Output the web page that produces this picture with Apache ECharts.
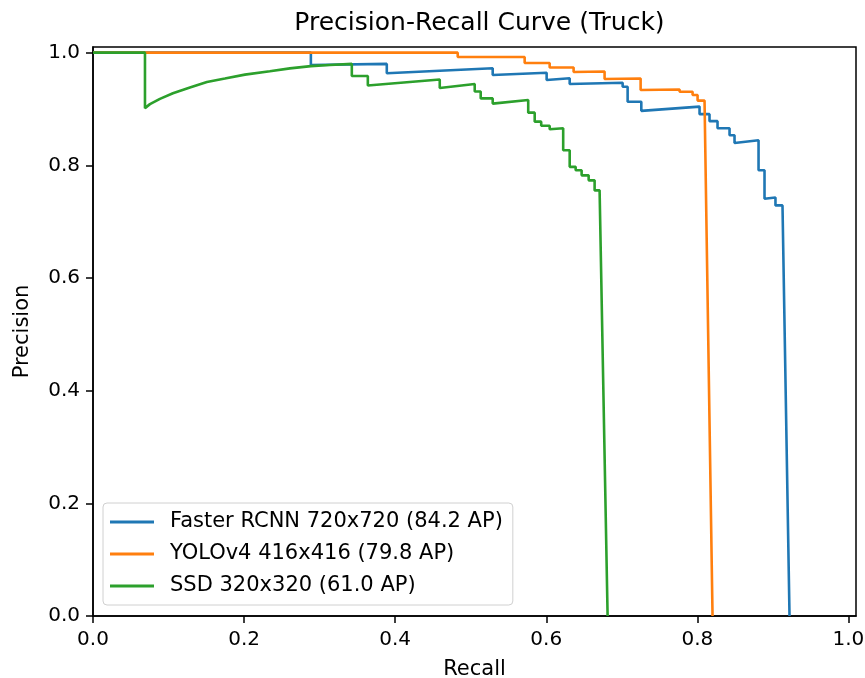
<!DOCTYPE html>
<html>
<head>
<meta charset="utf-8">
<script src="https://cdn.jsdelivr.net/npm/echarts@6/dist/echarts.min.js"></script>
<style>html,body{margin:0;padding:0;background:#fff;}#c{width:865px;height:678px;}</style>
</head>
<body>
<div id="c"></div>
<script>
const seriesNames = ['Faster RCNN 720x720 (84.2 AP)', 'YOLOv4 416x416 (79.8 AP)', 'SSD 320x320 (61.0 AP)'];
const xTicks = [0.0, 0.2, 0.4, 0.6, 0.8, 1.0];
const yTicks = [0.0, 0.2, 0.4, 0.6, 0.8, 1.0];

const fasterRecall = [0, 0.2884, 0.2884, 0.3889, 0.3889, 0.5291, 0.5291, 0.6005, 0.6005, 0.6310, 0.6310, 0.7011, 0.7011, 0.7077, 0.7077, 0.7258, 0.7258, 0.8029, 0.8029, 0.8161, 0.8161, 0.8267, 0.8267, 0.8426, 0.8426, 0.8492, 0.8492, 0.8810, 0.8810, 0.8889, 0.8889, 0.9034, 0.9034, 0.9127, 0.9220];
const fasterPrecision = [1.0, 1.0, 0.978, 0.980, 0.9633, 0.9722, 0.9603, 0.9644, 0.9514, 0.9544, 0.9443, 0.9466, 0.9394, 0.9394, 0.9127, 0.9127, 0.8967, 0.9042, 0.8908, 0.8908, 0.8784, 0.8784, 0.8659, 0.8659, 0.8534, 0.8534, 0.8397, 0.8445, 0.7911, 0.7911, 0.7407, 0.7430, 0.7288, 0.7288, 0.0];

const yoloRecall = [0, 0.4828, 0.4828, 0.5714, 0.5714, 0.6045, 0.6045, 0.6362, 0.6362, 0.6772, 0.6772, 0.7249, 0.7249, 0.7765, 0.7765, 0.7937, 0.7937, 0.8003, 0.8003, 0.8095, 0.8201];
const yoloPrecision = [1.0, 1.0, 0.9923, 0.9923, 0.9817, 0.9817, 0.9737, 0.9737, 0.9656, 0.9665, 0.9532, 0.9541, 0.9336, 0.9345, 0.9305, 0.9305, 0.9247, 0.9247, 0.9149, 0.9149, 0.0];

const ssdRecall = [0, 0.0688, 0.0688, 0.0754, 0.0886, 0.1058, 0.1283, 0.1508, 0.1746, 0.2011, 0.2341, 0.2606, 0.2884, 0.3135, 0.3426, 0.3426, 0.3638, 0.3638, 0.4590, 0.4590, 0.5053, 0.5053, 0.5132, 0.5132, 0.5291, 0.5291, 0.5761, 0.5761, 0.5847, 0.5847, 0.5933, 0.5933, 0.6045, 0.6045, 0.6224, 0.6224, 0.6310, 0.6310, 0.6389, 0.6389, 0.6468, 0.6468, 0.6561, 0.6561, 0.6640, 0.6640, 0.6706, 0.6812];
const ssdPrecision = [1.0, 1.0, 0.9015, 0.9086, 0.918, 0.928, 0.938, 0.948, 0.954, 0.961, 0.967, 0.972, 0.976, 0.978, 0.980, 0.9585, 0.9585, 0.9416, 0.9523, 0.9371, 0.9443, 0.9309, 0.9309, 0.9188, 0.9188, 0.9095, 0.9158, 0.8935, 0.8935, 0.8775, 0.8775, 0.8703, 0.8703, 0.8641, 0.8659, 0.8267, 0.8267, 0.7973, 0.7973, 0.7911, 0.7911, 0.7822, 0.7822, 0.7733, 0.7733, 0.7555, 0.7555, 0.0];

const colors = ['#1f77b4', '#ff7f0e', '#2ca02c'];
const zip = (a, b) => a.map((v, i) => [v, b[i]]);
const allData = [zip(fasterRecall, fasterPrecision), zip(yoloRecall, yoloPrecision), zip(ssdRecall, ssdPrecision)];

const FONT = 'DejaVu Sans';
const chart = echarts.init(document.getElementById('c'), null, {renderer: 'canvas'});
chart.setOption({
  animation: false,
  backgroundColor: '#fff',
  color: colors,
  title: {
    text: 'Precision-Recall Curve (Truck)',
    left: 474.5, top: 6, textAlign: 'center',
    textStyle: {fontFamily: FONT, fontSize: 25, fontWeight: 'normal', color: '#000'}
  },
  grid: {left: 93, right: 9, top: 47, bottom: 62, containLabel: false, outerBoundsMode: 'none', show: true, borderColor: '#000', borderWidth: 1.5, backgroundColor: 'transparent'},
  legend: {
    orient: 'vertical', left: 103, top: 503,
    data: seriesNames.map(n => ({name: n, icon: 'rect'})),
    itemWidth: 44, itemHeight: 3, itemGap: 8,
    padding: [7, 10, 7, 7],
    borderColor: '#d0d0d0', borderWidth: 1, borderRadius: 4, backgroundColor: 'rgba(255,255,255,0.8)',
    textStyle: {fontFamily: FONT, fontSize: 21, color: '#000', lineHeight: 24, padding: [0, 0, 0, 11]}
  },
  xAxis: {
    type: 'value', min: 0, max: 1.01,
    name: 'Recall', nameLocation: 'middle', nameGap: 43,
    nameTextStyle: {fontFamily: FONT, fontSize: 21, color: '#000'},
    axisLine: {show: true, lineStyle: {color: '#000', width: 1.5}},
    axisTick: {show: true, length: 7, lineStyle: {color: '#000', width: 1.5}, customValues: xTicks},
    axisLabel: {fontFamily: FONT, fontSize: 20, color: '#000', margin: 14, customValues: xTicks, formatter: v => v.toFixed(1)},
    splitLine: {show: false}
  },
  yAxis: {
    type: 'value', min: 0, max: 1.01,
    name: 'Precision', nameLocation: 'middle', nameGap: 60,
    nameTextStyle: {fontFamily: FONT, fontSize: 21, color: '#000'},
    axisLine: {show: true, lineStyle: {color: '#000', width: 1.5}},
    axisTick: {show: true, length: 7, lineStyle: {color: '#000', width: 1.5}, customValues: yTicks},
    axisLabel: {fontFamily: FONT, fontSize: 20, color: '#000', margin: 13, customValues: yTicks, formatter: v => v.toFixed(1)},
    splitLine: {show: false}
  },
  series: seriesNames.map((n, i) => ({
    name: n, type: 'line', data: allData[i], showSymbol: false, symbol: 'none',
    lineStyle: {width: 2.6, color: colors[i]}, itemStyle: {color: colors[i]}, z: 2 + i
  }))
});
</script>
</body>
</html>
